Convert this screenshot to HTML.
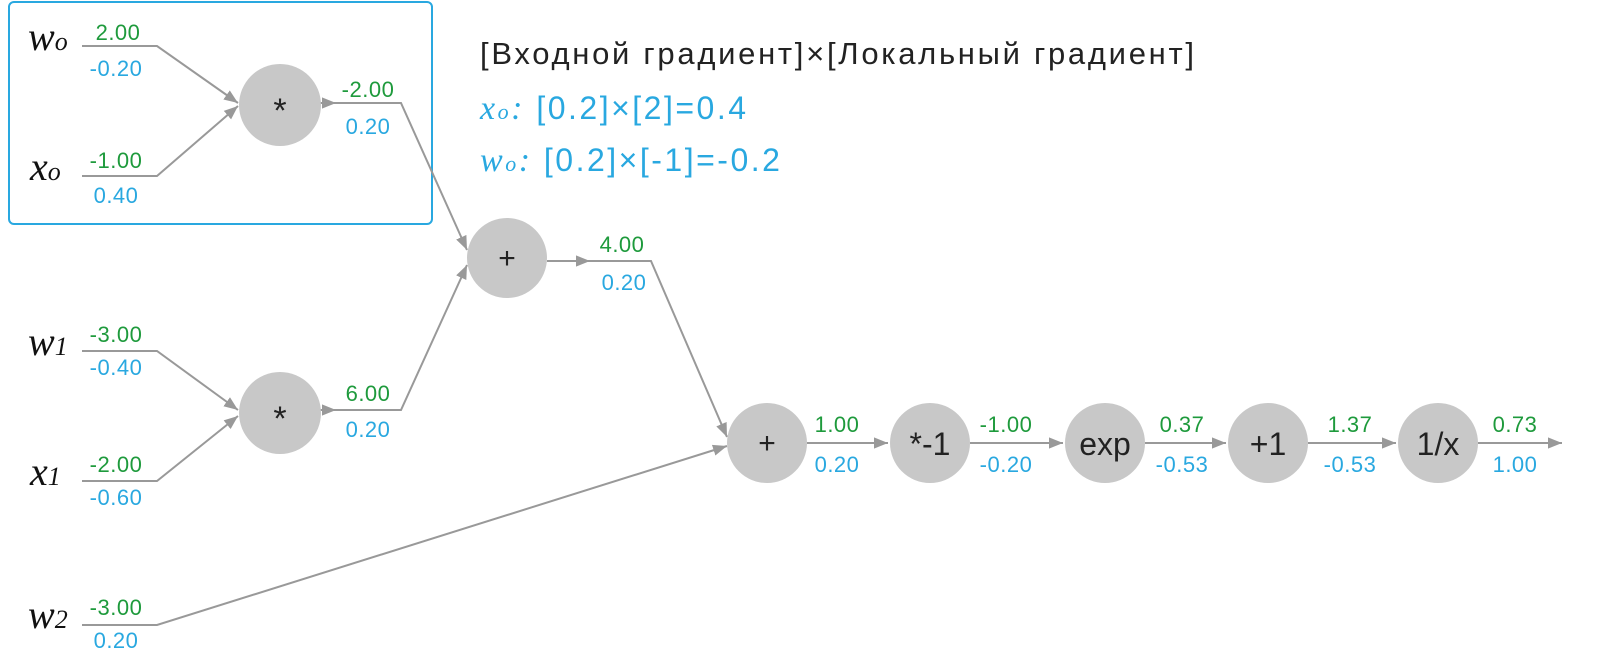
<!DOCTYPE html>
<html><head><meta charset="utf-8"><style>
body{margin:0;background:#fff}
svg{display:block}
.g{fill:#1e9a3c;font:22px "Liberation Sans",sans-serif;text-anchor:middle;letter-spacing:0.5px}
.b{fill:#29a8e0;font:22px "Liberation Sans",sans-serif;text-anchor:middle;letter-spacing:0.5px}
.v{fill:#111;font:italic 40px "Liberation Serif",serif}
.v tspan.s{font-size:26px}
.n{fill:#222;font:32px "Liberation Sans",sans-serif;text-anchor:middle}
line,polyline{stroke:#999;stroke-width:2;fill:none}
</style></head><body>
<svg width="1600" height="670" viewBox="0 0 1600 670" xmlns="http://www.w3.org/2000/svg">
<defs>
<marker id="A" viewBox="0 0 10 10" refX="10" refY="5" markerWidth="14" markerHeight="14" markerUnits="userSpaceOnUse" orient="auto"><path d="M0,1L10,5L0,9z" fill="#999"/></marker></defs>
<rect x="9" y="2" width="423" height="222" rx="5" fill="none" stroke="#29a8e0" stroke-width="2"/>
<polyline points="82,46 157,46 238,103" marker-end="url(#A)"/>
<polyline points="82,176 157,176 238,106" marker-end="url(#A)"/>
<polyline points="82,351 157,351 238,410" marker-end="url(#A)"/>
<polyline points="82,481 157,481 238,416" marker-end="url(#A)"/>
<polyline points="82,625 157,625 727,446" marker-end="url(#A)"/>
<line x1="320" y1="103" x2="336" y2="103" marker-end="url(#A)"/>
<polyline points="336,103 401,103 467,250" marker-end="url(#A)"/>
<line x1="320" y1="410" x2="336" y2="410" marker-end="url(#A)"/>
<polyline points="336,410 401,410 467,265" marker-end="url(#A)"/>
<line x1="547" y1="261" x2="590" y2="261" marker-end="url(#A)"/>
<polyline points="590,261 651,261 727,437" marker-end="url(#A)"/>
<line x1="807" y1="443" x2="888" y2="443" marker-end="url(#A)"/>
<line x1="970" y1="443" x2="1063" y2="443" marker-end="url(#A)"/>
<line x1="1145" y1="443" x2="1226" y2="443" marker-end="url(#A)"/>
<line x1="1308" y1="443" x2="1396" y2="443" marker-end="url(#A)"/>
<line x1="1478" y1="443" x2="1562" y2="443" marker-end="url(#A)"/>
<g fill="#c8c8c8">
<circle cx="280" cy="105" r="41"/><circle cx="507" cy="258" r="40"/><circle cx="280" cy="413" r="41"/>
<circle cx="767" cy="443" r="40"/><circle cx="930" cy="443" r="40"/><circle cx="1105" cy="443" r="40"/><circle cx="1268" cy="443" r="40"/><circle cx="1438" cy="443" r="40"/>
</g>
<text class="n" x="280" y="122" style="font-size:34px">*</text><text class="n" x="507" y="268" style="font-size:30px">+</text><text class="n" x="280" y="430" style="font-size:34px">*</text>
<text class="n" x="767" y="453" style="font-size:30px">+</text><text class="n" x="930" y="455">*-1</text><text class="n" x="1105" y="455">exp</text><text class="n" x="1268" y="455">+1</text><text class="n" x="1438" y="455">1/x</text>
<text class="v" x="28" y="50">w<tspan class="s">o</tspan></text>
<text class="v" x="30" y="180">x<tspan class="s">o</tspan></text>
<text class="v" x="28" y="355">w<tspan class="s">1</tspan></text>
<text class="v" x="30" y="485">x<tspan class="s">1</tspan></text>
<text class="v" x="28" y="628">w<tspan class="s">2</tspan></text>
<text class="g" x="118" y="40">2.00</text><text class="b" x="116" y="76">-0.20</text>
<text class="g" x="116" y="168">-1.00</text><text class="b" x="116" y="203">0.40</text>
<text class="g" x="368" y="97">-2.00</text><text class="b" x="368" y="134">0.20</text>
<text class="g" x="116" y="342">-3.00</text><text class="b" x="116" y="375">-0.40</text>
<text class="g" x="116" y="472">-2.00</text><text class="b" x="116" y="505">-0.60</text>
<text class="g" x="368" y="401">6.00</text><text class="b" x="368" y="437">0.20</text>
<text class="g" x="622" y="252">4.00</text><text class="b" x="624" y="290">0.20</text>
<text class="g" x="116" y="615">-3.00</text><text class="b" x="116" y="648">0.20</text>
<text class="g" x="837" y="432">1.00</text><text class="b" x="837" y="472">0.20</text>
<text class="g" x="1006" y="432">-1.00</text><text class="b" x="1006" y="472">-0.20</text>
<text class="g" x="1182" y="432">0.37</text><text class="b" x="1182" y="472">-0.53</text>
<text class="g" x="1350" y="432">1.37</text><text class="b" x="1350" y="472">-0.53</text>
<text class="g" x="1515" y="432">0.73</text><text class="b" x="1515" y="472">1.00</text>
<text x="480" y="64" style="fill:#222;font:31px 'Liberation Sans',sans-serif" textLength="714" lengthAdjust="spacing">[Входной градиент]×[Локальный градиент]</text>
<text x="480" y="119" style="fill:#29a8e0;font:32px 'Liberation Sans',sans-serif;letter-spacing:2.5px"><tspan style="font:italic 34px 'Liberation Serif',serif">x</tspan><tspan style="font:italic 22px 'Liberation Serif',serif">o</tspan><tspan style="font:italic 34px 'Liberation Serif',serif">:</tspan> [0.2]×[2]=0.4</text>
<text x="480" y="171" style="fill:#29a8e0;font:32px 'Liberation Sans',sans-serif;letter-spacing:2.5px"><tspan style="font:italic 34px 'Liberation Serif',serif">w</tspan><tspan style="font:italic 22px 'Liberation Serif',serif">o</tspan><tspan style="font:italic 34px 'Liberation Serif',serif">:</tspan> [0.2]×[-1]=-0.2</text>
</svg>
</body></html>
